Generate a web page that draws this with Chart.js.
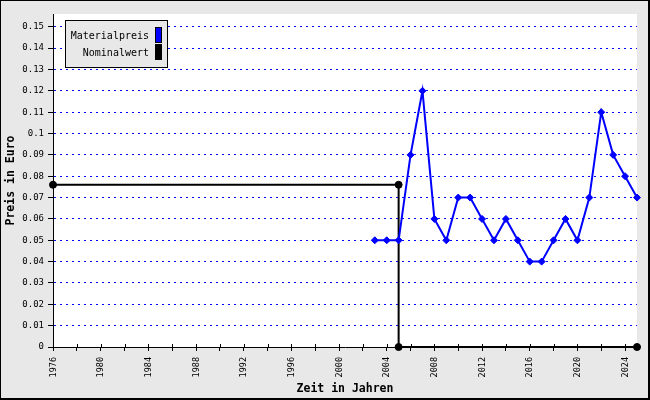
<!DOCTYPE html>
<html>
<head>
<meta charset="utf-8">
<script src="https://cdn.jsdelivr.net/npm/chart.js@4/dist/chart.umd.min.js"></script>
<style>
body { margin: 0; background: #e8e8e8; }
canvas { display: block; }
</style>
</head>
<body>
<canvas id="chart" width="650" height="400"></canvas>
<script>
// Materialpreis per year
const materialYears = [2003, 2004, 2005, 2006, 2007, 2008, 2009, 2010, 2011, 2012, 2013, 2014,
    2015, 2016, 2017, 2018, 2019, 2020, 2021, 2022, 2023, 2024, 2025];
const materialPrices = [0.05, 0.05, 0.05, 0.09, 0.12, 0.06, 0.05, 0.07, 0.07, 0.06, 0.05, 0.06,
    0.05, 0.04, 0.04, 0.05, 0.06, 0.05, 0.07, 0.11, 0.09, 0.08, 0.07];

// Nominalwert (step)
const nominalYears = [1976, 2005, 2005, 2025];
const nominalValues = [0.076, 0.076, 0, 0];

// x labels every 4 years
const yearLabels = [1976, 1980, 1984, 1988, 1992, 1996, 2000, 2004, 2008, 2012, 2016, 2020, 2024];

const monoFont = "'DejaVu Sans Mono', monospace";

function toPoints(xs, ys) {
    return xs.map((x, i) => ({ x: x, y: ys[i] }));
}

// gray frame, white plot area, rotated year labels, inner ticks, legend box
const jpStyle = {
    id: 'jpStyle',
    beforeDraw(chart) {
        const ctx = chart.ctx;
        const a = chart.chartArea;
        ctx.save();
        ctx.fillStyle = '#e8e8e8';
        ctx.fillRect(0, 0, chart.width, chart.height);
        ctx.fillStyle = '#ffffff';
        ctx.fillRect(a.left, a.top, a.right - a.left, a.bottom - a.top);
        ctx.restore();
    },
    afterDraw(chart) {
        const ctx = chart.ctx;
        const xs = chart.scales.x;
        const a = chart.chartArea;
        ctx.save();

        // inner part of x ticks
        ctx.strokeStyle = '#000';
        ctx.lineWidth = 1;
        xs.ticks.forEach(t => {
            const px = Math.round(xs.getPixelForValue(t.value)) + 0.5;
            ctx.beginPath();
            ctx.moveTo(px, a.bottom - 3);
            ctx.lineTo(px, a.bottom);
            ctx.stroke();
        });

        // year labels, reading bottom to top
        ctx.fillStyle = '#000';
        ctx.font = '8.5px ' + monoFont;
        ctx.textAlign = 'right';
        ctx.textBaseline = 'middle';
        yearLabels.forEach(y => {
            const px = xs.getPixelForValue(y);
            ctx.save();
            ctx.translate(px + 0.5, a.bottom + 10);
            ctx.rotate(-Math.PI / 2);
            ctx.fillText(String(y), 0, 0);
            ctx.restore();
        });

        // legend
        ctx.fillStyle = '#e8e8e8';
        ctx.fillRect(65.5, 20.5, 102, 47);
        ctx.strokeStyle = '#000';
        ctx.strokeRect(65.5, 20.5, 102, 47);
        ctx.font = '10px ' + monoFont;
        ctx.textAlign = 'right';
        chart.data.datasets.forEach((ds, i) => {
            const y = 36 + i * 17;
            ctx.fillStyle = '#000';
            ctx.fillText(ds.label, 149, y);
            ctx.fillStyle = ds.borderColor;
            ctx.fillRect(155, 27 + i * 17, 7, 16);
            ctx.strokeRect(155.5, 27.5 + i * 17, 6, 15);
        });

        // outer frame
        ctx.strokeRect(0.5, 0.5, chart.width - 1, chart.height - 1);
        ctx.fillStyle = '#000';
        ctx.fillRect(chart.width - 2, 0, 2, chart.height);
        ctx.fillRect(0, chart.height - 2, chart.width, 2);
        ctx.restore();
    }
};

new Chart(document.getElementById('chart'), {
    type: 'line',
    data: {
        datasets: [{
            label: 'Materialpreis',
            data: toPoints(materialYears, materialPrices),
            borderColor: '#0000ff',
            backgroundColor: '#0000ff',
            borderWidth: 2,
            pointStyle: 'rectRot',
            pointRadius: 3.5,
            pointBorderWidth: 1,
            tension: 0,
            clip: false
        }, {
            label: 'Nominalwert',
            data: toPoints(nominalYears, nominalValues),
            borderColor: '#000000',
            backgroundColor: '#000000',
            borderWidth: 2,
            pointStyle: 'circle',
            pointRadius: 3.5,
            pointBorderWidth: 1,
            tension: 0,
            clip: false
        }]
    },
    options: {
        responsive: false,
        animation: false,
        layout: { padding: { left: 0, right: 13, top: 14, bottom: 0 } },
        plugins: {
            legend: { display: false },
            tooltip: { enabled: false }
        },
        scales: {
            x: {
                type: 'linear',
                min: 1976,
                max: 2025,
                afterFit: s => { s.height = 53; },
                ticks: { stepSize: 2, includeBounds: false, display: false },
                grid: { drawOnChartArea: false, drawTicks: true, tickLength: 4, tickColor: '#000' },
                border: { color: '#000', width: 1 },
                title: {
                    display: true,
                    text: 'Zeit in Jahren',
                    color: '#000',
                    font: { family: monoFont, size: 11.5, weight: 'bold' },
                    padding: { top: 0, bottom: 4 }
                }
            },
            y: {
                min: 0,
                max: 0.156,
                afterFit: s => { s.width = 53; },
                ticks: {
                    stepSize: 0.01,
                    includeBounds: false,
                    autoSkip: false,
                    padding: 4,
                    color: '#000',
                    font: { family: monoFont, size: 9 },
                    callback: v => String(parseFloat(v.toFixed(2)))
                },
                grid: {
                    color: c => (c.tick && c.tick.value === 0) ? 'rgba(0,0,0,0)' : '#0000ff',
                    lineWidth: 1,
                    tickLength: 5,
                    tickColor: '#000'
                },
                border: { color: '#000', width: 1, dash: [2, 4] },
                title: {
                    display: true,
                    text: 'Preis in Euro',
                    color: '#000',
                    font: { family: monoFont, size: 11.5, weight: 'bold' },
                    padding: { top: 4, bottom: 0 }
                }
            }
        }
    },
    plugins: [jpStyle]
});
</script>
</body>
</html>
